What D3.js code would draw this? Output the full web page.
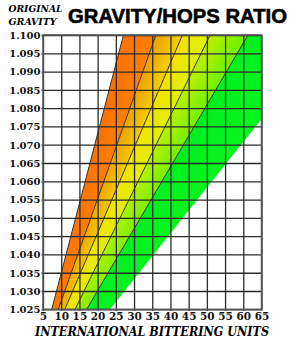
<!DOCTYPE html>
<html>
<head>
<meta charset="utf-8">
<script src="https://cdn.jsdelivr.net/npm/d3@7"></script>
<style>
  html, body { margin: 0; padding: 0; background: #fff; }
  svg { display: block; }
  .axis path { display: none; }
  .axis line { stroke: #2b2b2b; stroke-width: 1.3; }
  .axis text { font-family: "DejaVu Serif", serif; font-weight: bold; font-size: 10px; fill: #111; }
</style>
</head>
<body>
<script>
// original gravity ticks (y) and IBU ticks (x)
var gravityTicks = [1.025, 1.030, 1.035, 1.040, 1.045, 1.050, 1.055, 1.060,
                    1.065, 1.070, 1.075, 1.080, 1.085, 1.090, 1.095, 1.100];
var ibuTicks = [5, 10, 15, 20, 25, 30, 35, 40, 45, 50, 55, 60, 65];

// band boundary lines, read as IBU at OG 1.025 and at OG 1.100
var lineLow  = [7.4, 9.2, 11.0, 13.8, 17.0, 23.4];
var lineHigh = [27.1, 36.0, 43.3, 50.9, 61.3, 83.4];

// fills between consecutive lines (left colour, right colour)
var bandFrom = ["#ff7200", "#eda600", "#f1e200", "#b2f000", "#00f020"];
var bandTo   = ["#ff7e00", "#f2ca00", "#e0f000", "#78f000", "#08f41e"];

var margin = {top: 35, right: 38.5, bottom: 33.7, left: 43},
    W = 300, H = 343,
    width = W - margin.left - margin.right,
    height = H - margin.top - margin.bottom;

var x = d3.scaleLinear().domain([5, 65]).range([0, width]);
var y = d3.scaleLinear().domain([1.025, 1.100]).range([height, 0]);

var svg = d3.select("body").append("svg")
    .attr("width", W)
    .attr("height", H);

var defs = svg.append("defs");

var g = svg.append("g")
    .attr("transform", "translate(" + margin.left + "," + margin.top + ")");

g.append("clipPath")
        .attr("id", "clip")
    .append("rect")
        .attr("width", width)
        .attr("height", height);

var gLo = 1.025, gHi = 1.100, gMid = 1.0625;

function lineX(i, og) {
    return x(lineLow[i] + (lineHigh[i] - lineLow[i]) * (og - gLo) / (gHi - gLo));
}

var bands = bandFrom.map(function(c, i) {
    // gradient across the band, perpendicular to its mean direction
    var dx = ((x(lineHigh[i]) + x(lineHigh[i + 1])) - (x(lineLow[i]) + x(lineLow[i + 1]))) / 2,
        dy = y(gHi) - y(gLo),
        len = Math.sqrt(dx * dx + dy * dy),
        nx = -dy / len, ny = dx / len;
    var px = lineX(i, gMid), py = y(gMid),
        qx = lineX(i + 1, gMid),
        dist = (qx - px) * nx;
    defs.append("linearGradient")
        .attr("id", "band" + i)
        .attr("gradientUnits", "userSpaceOnUse")
        .attr("x1", px).attr("y1", py)
        .attr("x2", px + nx * dist).attr("y2", py + ny * dist)
        .selectAll("stop")
        .data([[0, c], [1, bandTo[i]]])
        .enter().append("stop")
            .attr("offset", function(d) { return d[0]; })
            .attr("stop-color", function(d) { return d[1]; });
    return {
        id: i,
        pts: [[lineLow[i], gLo], [lineHigh[i], gHi], [lineHigh[i + 1], gHi], [lineLow[i + 1], gLo]]
    };
});

var bandLayer = g.append("g").attr("clip-path", "url(#clip)");

bandLayer.selectAll("path.band")
    .data(bands)
    .enter().append("path")
        .attr("class", "band")
        .attr("fill", function(d) { return "url(#band" + d.id + ")"; })
        .attr("d", function(d) {
            return "M" + d.pts.map(function(p) { return x(p[0]) + "," + y(p[1]); }).join("L") + "Z";
        });

// grid
var yAxis = d3.axisLeft(y)
    .tickValues(gravityTicks)
    .tickFormat(d3.format(".3f"))
    .tickSizeInner(-width)
    .tickSizeOuter(0)
    .tickPadding(3);

var xAxis = d3.axisBottom(x)
    .tickValues(ibuTicks)
    .tickFormat(d3.format("d"))
    .tickSizeInner(-height)
    .tickSizeOuter(0)
    .tickPadding(3);

var gy = g.append("g").attr("class", "y axis").call(yAxis);
gy.selectAll(".tick line").attr("x1", -1.5);
gy.selectAll(".tick text").attr("x", -2.5).attr("dy", "0.34em");

var gx = g.append("g").attr("class", "x axis")
    .attr("transform", "translate(0," + height + ")")
    .call(xAxis);
gx.selectAll(".tick line").attr("y1", 1.5);
gx.selectAll(".tick text").attr("y", 3).attr("dy", "0.78em").style("font-size", "10.5px");

// band boundary lines (the outer green edge has no stroke)
bandLayer.selectAll("line.edge")
    .data(lineLow.slice(0, -1).map(function(d, i) { return [d, lineHigh[i]]; }))
    .enter().append("line")
        .attr("class", "edge")
        .attr("x1", function(d) { return x(d[0]); })
        .attr("y1", y(gLo))
        .attr("x2", function(d) { return x(d[1]); })
        .attr("y2", y(gHi))
        .attr("stroke", "#333")
        .attr("stroke-width", 1);

// frame
g.append("rect")
    .attr("width", width)
    .attr("height", height)
    .attr("fill", "none")
    .attr("stroke", "#555")
    .attr("stroke-width", 1.5);

// titles
svg.append("text")
    .attr("x", 68)
    .attr("y", 22.5)
    .attr("textLength", 219)
    .attr("lengthAdjust", "spacingAndGlyphs")
    .style("font-family", "'Liberation Sans', Arial, sans-serif")
    .style("font-weight", "900")
    .style("font-size", "20px")
    .style("stroke", "#000")
    .style("stroke-width", 0.6)
    .text("GRAVITY/HOPS RATIO");

svg.append("text")
    .attr("x", 8.5)
    .attr("y", 12)
    .attr("textLength", 54)
    .attr("lengthAdjust", "spacingAndGlyphs")
    .style("font-family", "'DejaVu Serif', serif")
    .style("font-weight", "bold")
    .style("font-style", "italic")
    .style("font-size", "9.5px")
    .text("ORIGINAL");

svg.append("text")
    .attr("x", 8.5)
    .attr("y", 25)
    .attr("textLength", 48)
    .attr("lengthAdjust", "spacingAndGlyphs")
    .style("font-family", "'DejaVu Serif', serif")
    .style("font-weight", "bold")
    .style("font-style", "italic")
    .style("font-size", "9.5px")
    .text("GRAVITY");

svg.append("text")
    .attr("x", 35)
    .attr("y", 336)
    .attr("textLength", 234)
    .attr("lengthAdjust", "spacingAndGlyphs")
    .style("font-family", "'DejaVu Serif', serif")
    .style("font-weight", "bold")
    .style("font-style", "italic")
    .style("font-size", "12.5px")
    .text("INTERNATIONAL BITTERING UNITS");
</script>
</body>
</html>
